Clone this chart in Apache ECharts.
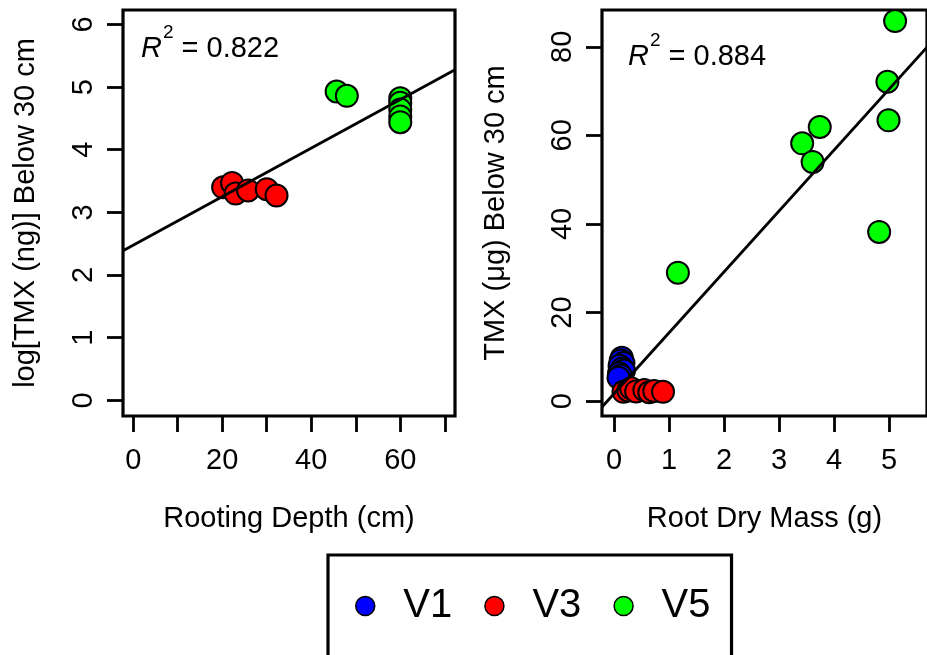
<!DOCTYPE html>
<html><head><meta charset="utf-8">
<script src="https://cdn.jsdelivr.net/npm/echarts@6/dist/echarts.min.js"></script>
<style>html,body{margin:0;padding:0;background:#fff}#c{width:927px;height:655px}</style>
</head><body><div id="c"></div>
<script>
// ---- tick values / labels ----
const depthTicks = [0, 10, 20, 30, 40, 50, 60, 70];
const depthLabels = [0, 20, 40, 60];
const logTicks = [0, 1, 2, 3, 4, 5, 6];
const massTicks = [0, 1, 2, 3, 4, 5];
const tmxTicks = [0, 20, 40, 60, 80];

// ---- groups ----
const groups = ['V1', 'V3', 'V5'];
const groupColors = ['#0000ff', '#ff0000', '#00ff00'];

// ---- left panel: rooting depth (cm) vs log[TMX (ng)] ----
const depthV3 = [[20.2, 3.40], [22.2, 3.47], [23.0, 3.30], [25.8, 3.35], [30.0, 3.37], [32.2, 3.27]];
const depthV5 = [[45.7, 4.93], [48.0, 4.86], [60, 4.82], [60, 4.75], [60, 4.64], [60, 4.53], [60, 4.44]];
const depthFit = [2.477, 0.0387];   // intercept, slope
const depthR2 = '0.822';

// ---- right panel: root dry mass (g) vs TMX (ug) ----
const massV1 = [[0.14, 9.8], [0.12, 9.2], [0.17, 8.6], [0.10, 8.0], [0.15, 7.4], [0.18, 6.9], [0.09, 6.3], [0.12, 5.8], [0.08, 5.3]];
const massV3 = [[0.17, 2.1], [0.26, 2.4], [0.31, 2.9], [0.40, 2.2], [0.55, 2.5], [0.64, 2.0], [0.73, 2.3], [0.89, 2.1]];
const massV5 = [[1.16, 29.0], [3.42, 58.2], [3.61, 54.0], [3.74, 61.9], [4.97, 72.1], [4.99, 63.4], [4.82, 38.2], [5.11, 85.8]];
const massFit = [1.71, 13.74];      // intercept, slope
const massR2 = '0.884';

const FONT = "'Liberation Sans', Arial, Helvetica, sans-serif";
const FS = 29;

const L = { xmin: -2.3, xmax: 72.3, ymin: -0.25, ymax: 6.23 };
const R = { xmin: -0.22, xmax: 5.69, ymin: -3.35, ymax: 88.3 };

function fitLine(fit, xmin, xmax) {
  return [[xmin, fit[0] + fit[1] * xmin], [xmax, fit[0] + fit[1] * xmax]];
}
function colorOf(name) { return groupColors[groups.indexOf(name)]; }
function scatter(name, data, idx) {
  return {
    type: 'scatter', name: name, xAxisIndex: idx, yAxisIndex: idx, data: data,
    symbol: 'circle', symbolSize: 22,
    itemStyle: { color: colorOf(name), borderColor: '#000', borderWidth: 2, opacity: 1 },
    emphasis: { disabled: true }
  };
}
function fitSeries(fit, rng, idx) {
  return {
    type: 'line', name: 'fit' + idx, xAxisIndex: idx, yAxisIndex: idx,
    data: fitLine(fit, rng.xmin, rng.xmax), symbol: 'none', clip: true, z: 5, silent: true,
    lineStyle: { color: '#000', width: 2.8 }
  };
}
const tickStyle = { color: '#000', width: 2.8 };
function xAxis(idx, rng, ticks, labels, name) {
  return {
    type: 'value', gridIndex: idx, min: rng.xmin, max: rng.xmax,
    name: name, nameLocation: 'middle', nameGap: 88,
    nameTextStyle: { fontSize: FS, color: '#000', fontFamily: FONT },
    axisLine: { show: false, onZero: false },
    axisTick: { show: true, customValues: ticks, length: 16, inside: false, lineStyle: tickStyle },
    axisLabel: { customValues: labels, margin: 30, fontSize: FS, color: '#000', fontFamily: FONT },
    splitLine: { show: false }
  };
}
function yAxis(idx, rng, ticks, labels, name, gap) {
  return {
    type: 'value', gridIndex: idx, min: rng.ymin, max: rng.ymax,
    name: name, nameLocation: 'middle', nameGap: gap,
    nameTextStyle: { fontSize: FS, color: '#000', fontFamily: FONT },
    axisLine: { show: false, onZero: false },
    axisTick: { show: true, customValues: ticks, length: 16, inside: false, lineStyle: tickStyle },
    axisLabel: { customValues: labels, rotate: 90, margin: 25, fontSize: FS, color: '#000', fontFamily: FONT },
    splitLine: { show: false }
  };
}
function r2Text(left, top, value) {
  return {
    type: 'text', left: left, top: top, silent: true,
    style: {
      text: '{i|R}{s|2}{n| = ' + value + '}',
      fontFamily: FONT,
      rich: {
        i: { fontStyle: 'italic', fontSize: FS, lineHeight: 40, verticalAlign: 'bottom', fontFamily: FONT, fill: '#000' },
        s: { fontSize: 19, lineHeight: 20, verticalAlign: 'top', fontFamily: FONT, fill: '#000', padding: [0, 0, 0, 1] },
        n: { fontSize: FS, lineHeight: 40, verticalAlign: 'bottom', fontFamily: FONT, fill: '#000' }
      }
    }
  };
}

const chart = echarts.init(document.getElementById('c'), null, { renderer: 'canvas' });
chart.setOption({
  animation: false,
  backgroundColor: '#fff',
  textStyle: { fontFamily: FONT },
  grid: [
    { left: 123, top: 10, width: 332, height: 406, show: true, borderColor: '#000', borderWidth: 3.2, backgroundColor: 'transparent' },
    { left: 602, top: 10, width: 332, height: 406, show: true, borderColor: '#000', borderWidth: 3.2, backgroundColor: 'transparent' }
  ],
  xAxis: [
    xAxis(0, L, depthTicks, depthLabels, 'Rooting Depth (cm)'),
    xAxis(1, R, massTicks, massTicks, 'Root Dry Mass (g)')
  ],
  yAxis: [
    yAxis(0, L, logTicks, logTicks, 'log[TMX (ng)] Below 30 cm', 83),
    yAxis(1, R, tmxTicks, tmxTicks, 'TMX (\u03bcg) Below 30 cm', 92)
  ],
  legend: {
    data: groups, orient: 'horizontal', left: 328, top: 555,
    itemWidth: 20, itemHeight: 19, itemGap: 32,
    padding: [31, 21, 60, 27],
    borderColor: '#000', borderWidth: 3.2, backgroundColor: '#fff',
    icon: 'circle', selectedMode: false,
    itemStyle: { borderColor: '#000', borderWidth: 1.5 },
    textStyle: { fontSize: 40, color: '#000', fontFamily: FONT, padding: [0, 0, 0, 23] }
  },
  graphic: [
    r2Text(141, 23, depthR2),
    r2Text(628, 31, massR2)
  ],
  series: [
    scatter('V3', depthV3, 0),
    scatter('V5', depthV5, 0),
    fitSeries(depthFit, L, 0),
    scatter('V1', massV1, 1),
    scatter('V3', massV3, 1),
    scatter('V5', massV5, 1),
    fitSeries(massFit, R, 1)
  ]
});
</script>
</body></html>
